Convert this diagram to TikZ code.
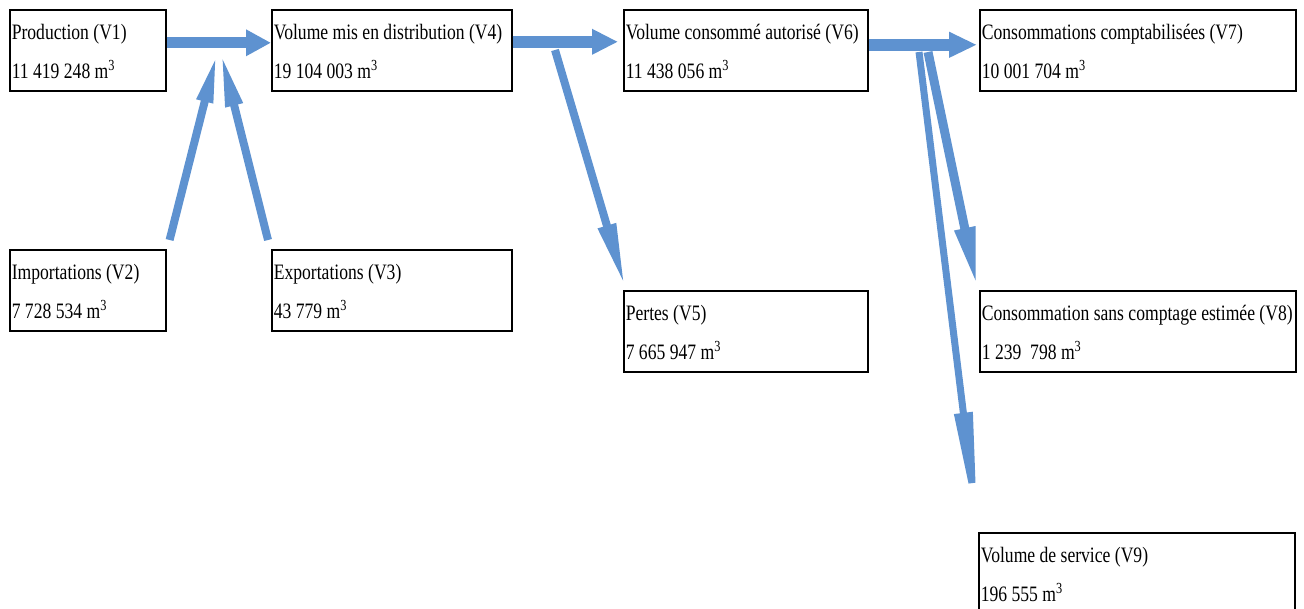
\documentclass[tikz,border=0pt]{standalone}
\usepackage{fontspec}
\setmainfont[FakeStretch=0.8]{Liberation Serif}
\usetikzlibrary{arrows.meta}
\definecolor{flowblue}{RGB}{94,146,208}
\newcommand{\vol}[2]{\spaceskip=2.2pt plus 1pt minus 1pt\relax
  \rule{0pt}{15pt}#1\\[6.5pt]#2 m\textsuperscript{3}\rule[-6pt]{0pt}{6pt}}

\begin{document}
\begin{tikzpicture}[x=0.5pt, y=-0.5pt,
  box/.style={draw, line width=0.8pt, anchor=north west, inner xsep=1pt, inner ysep=0pt,
    minimum height=40.5pt, align=left, font=\fontsize{11pt}{13pt}\selectfont},
  flow/.style={draw=flowblue, line width=#1}]
\useasboundingbox (0,0) rectangle (1304,609);
\node[box, text width=76pt] (v1) at (9,9) {\vol{Production (V1)}{11 419 248}};
\node[box, text width=76pt] (v2) at (9,249) {\vol{Importations (V2)}{7 728 534}};
\node[box, text width=118pt] (v4) at (271,9) {\vol{Volume mis en distribution (V4)}{19 104 003}};
\node[box, text width=118pt] (v3) at (271,249) {\vol{Exportations (V3)}{43 779}};
\node[box, text width=120pt] (v6) at (623,9) {\vol{Volume consommé autorisé (V6)}{11 438 056}};
\node[box, text width=120pt] (v5) at (623,290) {\vol{Pertes (V5)}{7 665 947}};
\node[box, text width=156pt] (v7) at (979,9) {\vol{Consommations comptabilisées (V7)}{10 001 704}};
\node[box, text width=156pt] (v8) at (979,290) {\vol{Consommation sans comptage estimée (V8)}{1 239\ \ 798}};
\node[box, text width=156pt] (v9) at (978,532) {\vol{Volume de service (V9)}{196 555}};
\coordinate (j1) at (219,53);
\coordinate (j2) at (555,50);
\coordinate (j3) at (928,52);
\coordinate (j4) at (919,52);
\draw[flow=5.5pt, -{Triangle[length=12.5pt,width=12.5pt]}] ([yshift=3.75pt]v1.east) -- ([yshift=3.75pt]v4.west);
\draw[flow=4pt, -{Triangle[length=25pt,width=7.5pt]}] ([xshift=1.5pt,yshift=4.5pt]v2.north east) -- ([xshift=-1pt]j1);
\draw[flow=4pt, -{Triangle[length=27pt,width=8pt]}] ([xshift=-1.5pt,yshift=4.5pt]v3.north west) -- ([xshift=1pt]j1);
\draw[flow=6pt, -{Triangle[length=13pt,width=12pt]}] ([yshift=4.25pt]v4.east) -- ([xshift=-2.5pt,yshift=4.25pt]v6.west);
\draw[flow=4pt, -{Triangle[length=32pt,width=8.5pt]}] (j2) -- ([xshift=1pt,yshift=1.5pt]v5.north west);
\draw[flow=6pt, -{Triangle[length=14pt,width=12pt]}] ([yshift=2.75pt]v6.east) -- ([xshift=-1pt,yshift=2.75pt]v7.west);
\draw[flow=4.5pt, -{Triangle[length=30pt,width=9.5pt]}] (j3) -- ([xshift=-1pt,yshift=1.5pt]v8.north west);
\draw[flow=3.5pt, -{Triangle[length=60pt,width=8.5pt]}] (j4) -- (v9.north west);
\end{tikzpicture}
\end{document}
